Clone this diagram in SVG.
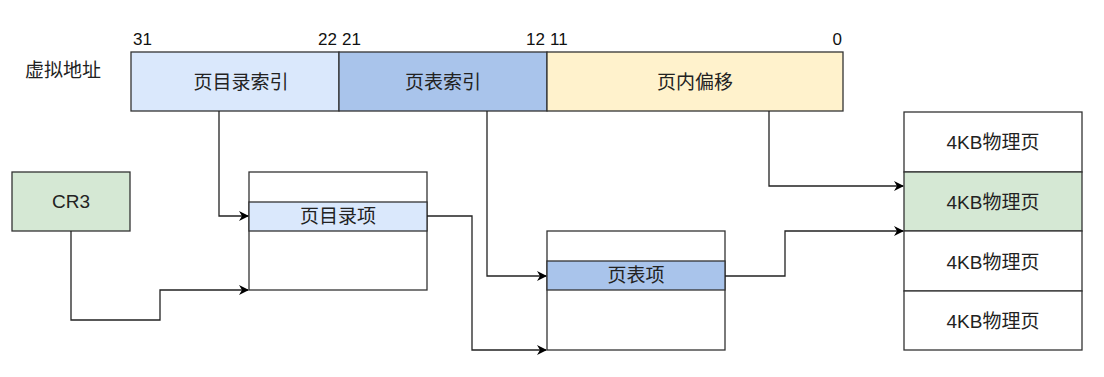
<svg xmlns="http://www.w3.org/2000/svg" width="1104" height="377" viewBox="0 0 1104 377">
<defs>
<marker id="arr" viewBox="0 0 10 10" refX="9" refY="5" markerWidth="10" markerHeight="10" markerUnits="userSpaceOnUse" orient="auto">
<path d="M0,0 L10,5 L0,10 L3,5 Z" fill="#000"/>
</marker>
</defs>
<style>
.b{stroke:#333;stroke-width:1.3}
.t{font-family:"Liberation Sans","Noto Sans CJK SC",sans-serif;font-size:19px;fill:#222;text-anchor:middle;dominant-baseline:central}
.n{font-family:"Liberation Sans","Noto Sans CJK SC",sans-serif;font-size:17px;fill:#111}
.c{fill:none;stroke:#222;stroke-width:1.3;marker-end:url(#arr)}
</style>
<rect width="1104" height="377" fill="#fff"/>
<g id="labels">
<text class="n" x="133" y="45">31</text>
<text class="n" x="337" y="45" text-anchor="end">22</text>
<text class="n" x="342" y="45">21</text>
<text class="n" x="545" y="45" text-anchor="end">12</text>
<text class="n" x="550" y="45">11</text>
<text class="n" x="842" y="45" text-anchor="end">0</text>
<text class="t" x="63" y="70">虚拟地址</text>
</g>
<g id="vaddr">
<rect class="b" x="131" y="52" width="208" height="59" fill="#dae8fc"/>
<text class="t" x="241" y="82">页目录索引</text>
<rect class="b" x="339" y="52" width="208" height="59" fill="#a9c4eb"/>
<text class="t" x="443" y="82">页表索引</text>
<rect class="b" x="547" y="52" width="296" height="59" fill="#fff2cc"/>
<text class="t" x="695" y="82">页内偏移</text>
</g>
<g id="cr3">
<rect class="b" x="12" y="172" width="118" height="59" fill="#d5e8d4"/>
<text class="t" x="71" y="201">CR3</text>
</g>
<g id="pd">
<rect class="b" x="249" y="172" width="178" height="118" fill="#fff"/>
<rect class="b" x="249" y="202" width="178" height="29" fill="#dae8fc"/>
<text class="t" x="338" y="216">页目录项</text>
</g>
<g id="pt">
<rect class="b" x="547" y="231" width="178" height="119" fill="#fff"/>
<rect class="b" x="547" y="261" width="178" height="29" fill="#a9c4eb"/>
<text class="t" x="636" y="275">页表项</text>
</g>
<g id="pages">
<rect class="b" x="904" y="112" width="178" height="60" fill="#fff"/>
<text class="t" x="993" y="142">4KB物理页</text>
<rect class="b" x="904" y="172" width="178" height="59" fill="#d5e8d4"/>
<text class="t" x="993" y="202">4KB物理页</text>
<rect class="b" x="904" y="231" width="178" height="60" fill="#fff"/>
<text class="t" x="993" y="262">4KB物理页</text>
<rect class="b" x="904" y="291" width="178" height="59" fill="#fff"/>
<text class="t" x="993" y="321">4KB物理页</text>
</g>
<g id="connectors">
<path class="c" d="M219,111 V216 H248"/>
<path class="c" d="M71,231 V320 H160 V290 H248"/>
<path class="c" d="M427,216 H472 V350 H546"/>
<path class="c" d="M487,111 V276 H546"/>
<path class="c" d="M725,276 H785 V231 H903"/>
<path class="c" d="M769,111 V186 H903"/>
</g>
</svg>
